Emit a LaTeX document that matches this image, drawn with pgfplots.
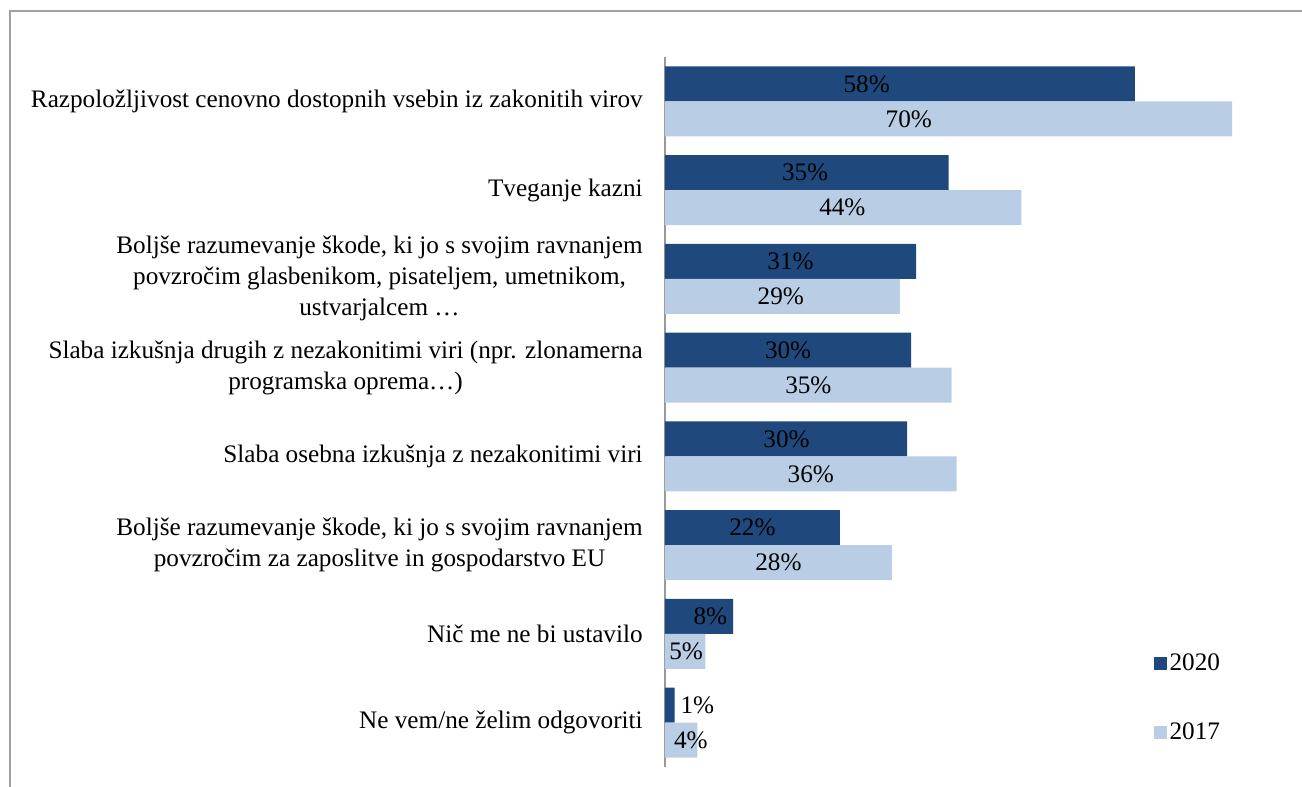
\documentclass[border=0pt]{standalone}
\usepackage{fontspec}
\setmainfont{Liberation Serif}
\usepackage{pgfplots}
\pgfplotsset{compat=1.18}
\usepackage{pgfplotstable}

\definecolor{dk}{HTML}{1F497D}
\definecolor{lt}{HTML}{B9CDE5}
\definecolor{framegray}{HTML}{A0A0A0}

% y: category position (7 = top), v: bar length, lx: label position, lab: label
\pgfplotstableread{
y v lx lab
7 58 24.9 58
6 35 17.3 35
5 31 15.5 31
4 30.4 15.2 30
3 29.9 15.0 30
2 21.6 10.8 22
1 8.4 5.6 8
0 1.2 4.0 1
}\dataA
\pgfplotstableread{
y v lx lab
7 70 30.1 70
6 44 21.9 44
5 29 14.3 29
4 35.4 17.7 35
3 36 18.0 36
2 28 14.0 28
1 5 2.6 5
0 4 3.2 4
}\dataB

\begin{document}
\begin{tikzpicture}
\path[use as bounding box] (0,0) rectangle (651pt,393.5pt);
\fill[white] (0,0) rectangle (651pt,393.5pt);
\draw[framegray, line width=1pt] (4.85pt,0) -- (4.85pt,388pt) -- (651pt,388pt);
\begin{axis}[
    at={(332.5pt,10pt)}, anchor=south west,
    scale only axis, width=283.5pt, height=355pt,
    xmin=0, xmax=70, ymin=-0.5, ymax=7.5,
    clip=false,
    axis x line=none, axis y line=left,
    y axis line style={-, draw=gray!80, line width=0.8pt},
    xtick=\empty,
    ytick={0,...,7},
    yticklabels={
      {Ne vem/ne želim odgovoriti},
      {Nič me ne bi ustavilo},
      {Boljše razumevanje škode, ki jo s svojim ravnanjem\\povzročim za zaposlitve in gospodarstvo EU},
      {Slaba osebna izkušnja z nezakonitimi viri},
      {Slaba izkušnja drugih z nezakonitimi viri (npr. zlonamerna\\programska oprema…)},
      {Boljše razumevanje škode, ki jo s svojim ravnanjem\\povzročim glasbenikom, pisateljem, umetnikom,\\ustvarjalcem …},
      {Tveganje kazni},
      {Razpoložljivost cenovno dostopnih vsebin iz zakonitih virov}},
    ytick style={draw=none},
    yticklabel style={align=center, font=\fontsize{12.6}{15.5}\selectfont, xshift=-5.5pt},
    legend style={at={(axis description cs:0.861,0.097)}, anchor=west,
      draw=none, fill=none, inner sep=0pt, row sep=21.5pt,
      font=\fontsize{12.6}{14}\selectfont, nodes={inner sep=1.5pt}},
    legend cell align=left,
    legend image code/.code={\path[#1, draw=none] (0pt,-3.25pt) rectangle (6.5pt,3.25pt);},
    legend style={/tikz/every even column/.append style={column sep=2pt}},
  ]
  \addplot[xbar, bar width=17.5pt, bar shift=8.75pt, fill=dk, draw=none]
    table[x=v, y=y] {\dataA};
  \addlegendentry{2020}
  \addplot[xbar, bar width=17.5pt, bar shift=-8.75pt, fill=lt, draw=none]
    table[x=v, y=y] {\dataB};
  \addlegendentry{2017}

  \addplot[forget plot, only marks, mark=none, nodes near coords={\pgfplotspointmeta\%},
    point meta=explicit symbolic,
    every node near coord/.append style={anchor=center, yshift=8.75pt, inner sep=0pt,
      font=\fontsize{12.6}{14}\selectfont, text=black}]
    table[x=lx, y=y, meta=lab] {\dataA};
  \addplot[forget plot, only marks, mark=none, nodes near coords={\pgfplotspointmeta\%},
    point meta=explicit symbolic,
    every node near coord/.append style={anchor=center, yshift=-8.75pt, inner sep=0pt,
      font=\fontsize{12.6}{14}\selectfont, text=black}]
    table[x=lx, y=y, meta=lab] {\dataB};
\end{axis}
\end{tikzpicture}
\end{document}
